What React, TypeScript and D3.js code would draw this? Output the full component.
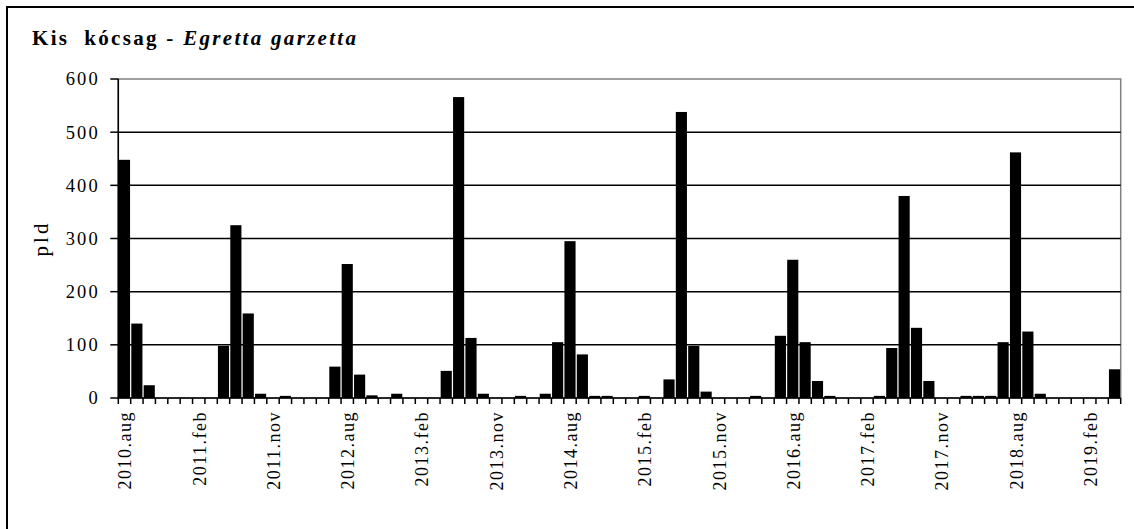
import React from 'react';
import * as d3 from 'd3';

// survey seasons: aug..apr, 9 counts per season
const seasons = [2010, 2011, 2012, 2013, 2014, 2015, 2016, 2017, 2018];
const months = ['aug', 'szept', 'okt', 'nov', 'dec', 'jan', 'feb', 'márc', 'ápr'];

// pld per count
const counts = [
  448, 140, 24, 0, 0, 0, 0, 0, 98,
  325, 159, 8, 0, 4, 0, 0, 0, 59,
  252, 44, 5, 0, 8, 0, 0, 0, 51,
  566, 113, 8, 0, 0, 4, 0, 8, 105,
  295, 82, 4, 4, 0, 0, 4, 0, 35,
  538, 98, 12, 0, 0, 0, 4, 0, 117,
  260, 105, 32, 4, 0, 0, 0, 4, 94,
  380, 132, 32, 0, 0, 4, 4, 4, 105,
  462, 125, 8, 0, 0, 0, 0, 0, 54,
];

const yTicks = [0, 100, 200, 300, 400, 500, 600];
const labelEvery = 6;

const categories: string[] = [];
seasons.forEach((y) => {
  months.forEach((m, i) => {
    categories.push(`${i < 5 ? y : y + 1}.${m}`);
  });
});

const W = 1134;
const H = 529;
const plot = { left: 118.3, right: 1120.7, top: 79, bottom: 398 };
const font = '"Liberation Serif", "Times New Roman", serif';

export default function App() {
  const x = d3.scaleBand<string>()
    .domain(categories)
    .range([plot.left, plot.right])
    .paddingInner(0.1)
    .paddingOuter(0.05);

  const y = d3.scaleLinear()
    .domain([0, 600])
    .range([plot.bottom, plot.top]);

  const step = x.step();
  const boundaries = d3.range(categories.length + 1).map((i) => plot.left + i * step);

  return (
    <svg
      width={W}
      height={H}
      style={{ position: 'absolute', left: 0, top: 0, background: '#fff' }}
      fontFamily={font}
    >
      <rect x={7} y={7} width={W + 10} height={H + 10} fill="#fff" stroke="#000" strokeWidth={2} />

      <text x={32} y={45} fontSize={21} fontWeight="bold" letterSpacing={2.3}>
        {'Kis\u00A0 kócsag - '}<tspan fontStyle="italic">Egretta garzetta</tspan>
      </text>

      {/* plot area border */}
      <rect
        x={plot.left}
        y={plot.top}
        width={plot.right - plot.left}
        height={plot.bottom - plot.top}
        fill="none"
        stroke="#808080"
        strokeWidth={1.5}
      />

      {/* gridlines */}
      {yTicks.filter((t) => t > 0 && t < 600).map((t) => (
        <line key={t} x1={plot.left} x2={plot.right} y1={y(t)} y2={y(t)} stroke="#000" strokeWidth={1.5} />
      ))}

      {/* bars */}
      {counts.map((v, i) => (
        <rect
          key={i}
          x={x(categories[i])}
          y={y(v)}
          width={x.bandwidth()}
          height={plot.bottom - y(v)}
          fill="#000"
        />
      ))}

      {/* y axis */}
      <line x1={plot.left} x2={plot.left} y1={plot.top} y2={plot.bottom} stroke="#000" strokeWidth={1.5} />
      {yTicks.map((t) => (
        <g key={t}>
          <line x1={plot.left - 8} x2={plot.left} y1={y(t)} y2={y(t)} stroke="#000" strokeWidth={1.5} />
          <text x={100} y={y(t)} dy="0.35em" textAnchor="end" fontSize={18.5} letterSpacing={2.2}>
            {t}
          </text>
        </g>
      ))}
      <text
        transform={`translate(48,${(plot.top + plot.bottom) / 2}) rotate(-90)`}
        textAnchor="middle"
        fontSize={21}
        letterSpacing={3}
      >
        pld
      </text>

      {/* x axis */}
      <line x1={plot.left} x2={plot.right} y1={plot.bottom} y2={plot.bottom} stroke="#000" strokeWidth={1.5} />
      {boundaries.map((bx, i) => (
        <line key={i} x1={bx} x2={bx} y1={plot.bottom} y2={plot.bottom + 6} stroke="#000" strokeWidth={1.5} />
      ))}
      {categories.map((c, i) =>
        i % labelEvery === 0 ? (
          <text
            key={c}
            transform={`translate(${(x(c) ?? 0) + x.bandwidth() / 2 + 7},411) rotate(-90)`}
            textAnchor="end"
            fontSize={18}
            letterSpacing={1.5}
          >
            {c}
          </text>
        ) : null
      )}
    </svg>
  );
}
